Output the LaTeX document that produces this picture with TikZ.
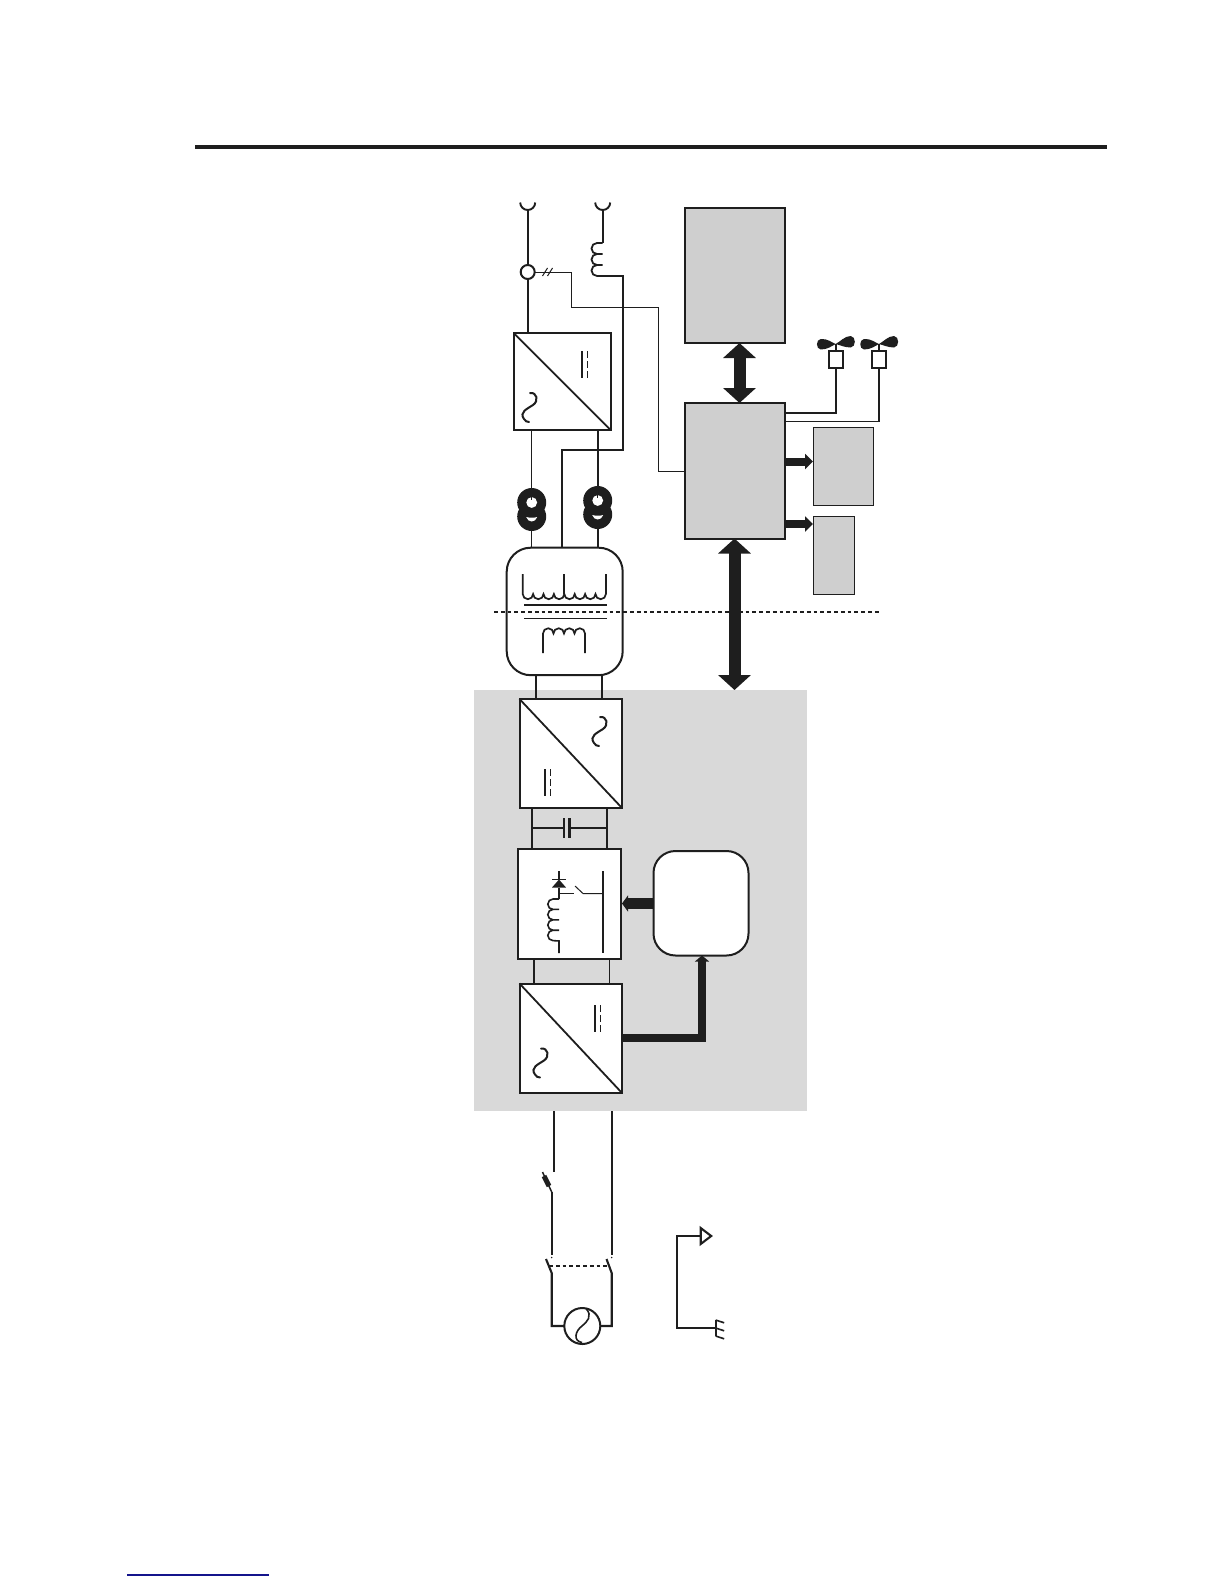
\documentclass[tikz,border=0pt]{standalone}
\usetikzlibrary{arrows.meta}
\definecolor{ink}{HTML}{1E1E1E}
\definecolor{panelgray}{HTML}{D9D9D9}
\definecolor{boxgray}{HTML}{CFCFCF}
\definecolor{linkblue}{HTML}{14148C}
\tikzset{
  x=1pt,y=-1pt,
  wire/.style={draw=ink,line width=2.1pt,line join=miter},
  thick wire/.style={draw=ink,line width=2.5pt,line join=miter},
  thin wire/.style={draw=ink,line width=1pt,line join=miter},
  anybox/.style={inner sep=0pt,outer sep=0pt,anchor=north west},
  conv/.style={anybox,draw=ink,line width=2pt,fill=white},
  grayblock/.style={anybox,draw=ink,line width=2pt,fill=boxgray},
  grayblockthin/.style={anybox,draw=ink,line width=.8pt,fill=boxgray},
  panelbox/.style={anybox,fill=panelgray},
  roundbox/.style={anybox,draw=ink,line width=2pt,fill=white,rounded corners=22pt},
  bigdouble/.style={draw=ink,line width=12pt,{Triangle[length=15pt,width=32pt]}-{Triangle[length=15pt,width=32pt]}},
  shortarrow/.style={draw=ink,line width=8pt,-{Triangle[length=8pt,width=15pt]}},
  power/.style={draw=ink,line width=7.5pt,line join=miter,-{Triangle[length=6pt,width=14pt]}},
  sinewave/.pic={\draw[ink,line width=2pt,line cap=round]
     (0,-14.5) .. controls (7,-15.5) and (9,-6.5) .. (3,-2.5)
     .. controls (-3,1.5) and (-11,4.5) .. (-6,11.5)
     .. controls (-5,13.5) and (-3,14.5) .. (-1,14.5);},
  dcsign/.pic={\draw[ink,line width=2.2pt] (0,0) -- (0,27);
     \draw[ink,line width=1.2pt,dash pattern=on 7pt off 3pt] (5.5,0) -- (5.5,27);},
  sensor/.pic={
     \fill[ink] (0,0) circle[radius=14.5];
     \fill[ink] (0,14) circle[radius=14.5];
     \fill[white] (0,0) circle[radius=5.4];
     \fill[white] (-5.5,14.5) .. controls (-2,15.5) and (2,15.5) .. (5.5,14.5)
        .. controls (3.5,20.5) and (-3.5,20.5) .. (-5.5,14.5) -- cycle;
     \draw[ink,line width=1pt] (0,-14.5) -- (0,-3);},
  fanhead/.pic={
     \fill[ink] (0,0) .. controls (-4,-1.5) and (-8,-5.5) .. (-15,-5)
        .. controls (-20,-4.5) and (-20,5) .. (-15,5.5)
        .. controls (-8,5.5) and (-4,2) .. (0,0) -- cycle;
     \fill[ink] (0,0) .. controls (4,-2) and (9,-8) .. (15,-8)
        .. controls (20.5,-7.5) and (20.5,3) .. (15,3.5)
        .. controls (9,3.5) and (4,1) .. (0,0) -- cycle;},
  cup/.pic={\draw[ink,line width=1.9pt] (-7.5,0) arc[start angle=180,end angle=0,radius=7.5];}
}
\begin{document}
\begin{tikzpicture}
\useasboundingbox (0,0) rectangle (1224,1584);

% page furniture
\coordinate (ruleL) at (195,146.5);
\coordinate (ruleR) at (1107,146.5);
\draw[ink,line width=4pt] (ruleL) -- (ruleR);
\coordinate (linkL) at (127,1575);
\coordinate (linkR) at (269,1575);
\draw[linkblue,line width=1.3pt] (linkL) -- (linkR);

% gray panel
\node[panelbox,minimum width=333pt,minimum height=421pt] (panel) at (474,690) {};

% blocks
\node[conv,minimum width=97pt,minimum height=97pt] (conv1) at (513.7,333) {};
\node[conv,minimum width=102.5pt,minimum height=109pt] (conv2) at (519.5,699) {};
\node[conv,minimum width=103pt,minimum height=110pt] (chop) at (517.7,849) {};
\node[conv,minimum width=102.5pt,minimum height=109.5pt] (conv3) at (519.5,983.5) {};
\node[roundbox,minimum width=95pt,minimum height=104.5pt] (ctl) at (653.5,851) {};
\node[anybox,draw=ink,line width=2pt,fill=white,rounded corners=24pt,minimum width=116pt,minimum height=127.5pt] (xfmr) at (506.7,547.7) {};
\node[grayblock,minimum width=100pt,minimum height=135pt] (disp) at (685,208) {};
\node[grayblock,minimum width=100pt,minimum height=135.5pt] (cpu) at (685,403) {};
\node[grayblockthin,minimum width=60.5pt,minimum height=78pt] (aux1) at (813,427) {};
\node[grayblockthin,minimum width=41.5pt,minimum height=78pt] (aux2) at (813,516) {};
\node[anybox,draw=ink,line width=2pt,fill=white,minimum width=14pt,minimum height=17pt] (fan1) at (828.7,351) {};
\node[anybox,draw=ink,line width=2pt,fill=white,minimum width=14pt,minimum height=17pt] (fan2) at (871.7,351) {};
\node[draw=ink,line width=2pt,fill=white,circle,minimum size=14pt,inner sep=0pt,outer sep=0pt] (ct) at (527.7,272) {};
\node[draw=ink,line width=2pt,fill=white,circle,minimum size=36pt,inner sep=0pt,outer sep=0pt] (src) at (582.3,1326) {};

% diagonals
\foreach \b in {conv1,conv2,conv3}{\draw[ink,line width=1.8pt] (\b.north west) -- (\b.south east);}
\pic at (530,407.5) {sinewave};
\pic at (600,731.5) {sinewave};
\pic at (541,1063) {sinewave};
\pic at (581.7,351) {dcsign};
\pic at (545,769) {dcsign};
\pic at (595,1005) {dcsign};

% grid side
\coordinate (t1) at (527.7,210);
\coordinate (t2) at (602.7,210);
\pic at (527.7,202.5) {cup};
\pic at (602.7,202.5) {cup};
\draw[wire] (t1) -- (ct.north);
\draw[wire] (ct.south) -- (ct.south |- conv1.north);
\coordinate (coilT) at (602.7,243);
\coordinate (coilB) at (597,276);
\coordinate (bus) at (623,276);
\coordinate (busB) at (623,450);
\coordinate (tap) at (562,450);
\draw[wire] (t2) -- (coilT);
\draw[ink,line width=1.8pt] (coilT) -- ++(-5.7,0)
  arc[start angle=270,end angle=90,radius=5.5] -- ++(5.7,0) -- ++(-5.7,0)
  arc[start angle=270,end angle=90,radius=5.5] -- ++(5.7,0) -- ++(-5.7,0)
  arc[start angle=270,end angle=90,radius=5.5];
\draw[thick wire] (coilB) -- (bus) -- (busB) -- (tap) -- (tap |- xfmr.north);

% measurement line
\coordinate (m1) at (571.7,272);
\coordinate (m2) at (571.7,307);
\coordinate (m3) at (658,307);
\coordinate (m4) at (658,471.5);
\draw[thin wire] (ct.east) -- (m1) -- (m2) -- (m3) -- (m4) -- (m4 -| cpu.west);
\coordinate (tk1) at (545,272);
\coordinate (tk2) at (550,272);
\draw[thin wire] ([shift={(-2.5,4)}]tk1) -- ([shift={(2.5,-4)}]tk1);
\draw[thin wire] ([shift={(-2.5,4)}]tk2) -- ([shift={(2.5,-4)}]tk2);

% sensors
\coordinate (s1) at (531.7,502.5);
\coordinate (s2) at (597.7,500.5);
\draw[thin wire] (s1 |- conv1.south) -- (s1);
\draw[wire] (s2 |- conv1.south) -- (s2);
\draw[thin wire] (s1) -- (s1 |- xfmr.north);
\draw[wire] (s2) -- (s2 |- xfmr.north);
\pic at (s1) {sensor};
\pic at (s2) {sensor};

% transformer windings
\draw[ink,line width=1.7pt] (522.7,574) -- (522.7,594)
  \foreach \i in {1,...,8}{ arc[start angle=180,end angle=0,radius=5.2] } -- (606,574);
\draw[ink,line width=1.7pt] (564.3,574) -- (564.3,594);
\coordinate (barL) at (524,605);
\coordinate (barR) at (607,605);
\draw[ink,line width=2.2pt] (barL) -- (barR);
\coordinate (bar2L) at (524,618.5);
\coordinate (bar2R) at (607,618.5);
\draw[ink,line width=1pt] (bar2L) -- (bar2R);
\draw[ink,line width=1.7pt] (543,653) -- (543,633.5)
  \foreach \i in {1,...,4}{ arc[start angle=180,end angle=360,radius=5.25] } -- (585,653);
\coordinate (isoL) at (494,612);
\coordinate (isoR) at (880,612);
\draw[ink,line width=1.6pt,dash pattern=on 3.8pt off 3pt] (isoL) -- (isoR);

% transformer to panel converter
\coordinate (x1) at (535.7,680);
\coordinate (x2) at (601.7,680);
\draw[wire] (x1 |- xfmr.south) -- (x1 |- conv2.north);
\draw[wire] (x2 |- xfmr.south) -- (x2 |- conv2.north);

% DC link
\coordinate (d1) at (532,830);
\coordinate (d2) at (606.7,830);
\draw[wire] (d1 |- conv2.south) -- (d1 |- chop.north);
\draw[wire] (d2 |- conv2.south) -- (d2 |- chop.north);
\coordinate (capL) at (564,827.7);
\coordinate (capR) at (569.5,827.7);
\draw[wire] (d1 |- capL) -- (capL);
\draw[wire] (capR) -- (d2 |- capR);
\draw[draw=ink,line width=1.4pt] ([yshift=-10pt]capL) -- ([yshift=10pt]capL);
\draw[ink,line width=2.4pt] ([yshift=-10pt]capR) -- ([yshift=10pt]capR);

% chopper interior
\coordinate (dTop) at (559,871);
\coordinate (dBar) at (559,879.5);
\coordinate (dBase) at (559,887.5);
\coordinate (coilC) at (559,899);
\draw[ink,line width=1.6pt] (dTop) -- (dBar);
\draw[ink,line width=1.6pt] (dBase) -- (coilC);
\draw[ink,line width=1.5pt] ([xshift=-7pt]dBar) -- ([xshift=7pt]dBar);
\fill[ink] (dBar) -- ([xshift=-7pt]dBase) -- ([xshift=7pt]dBase) -- cycle;
\coordinate (cdE) at (559,941);
\coordinate (cdB) at (559,953);
\draw[ink,line width=1.6pt] (coilC) -- ++(-6,0)
  arc[start angle=270,end angle=90,radius=5.2] -- ++(6,0) -- ++(-6,0)
  arc[start angle=270,end angle=90,radius=5.2] -- ++(6,0) -- ++(-6,0)
  arc[start angle=270,end angle=90,radius=5.2] -- ++(6,0) -- ++(-6,0)
  arc[start angle=270,end angle=90,radius=5.2] -- (cdE) -- (cdB);
\coordinate (barT) at (602.7,871);
\coordinate (barB) at (602.7,953);
\draw[ink,line width=2pt] (barT) -- (barB);
\coordinate (swA) at (574,893.5);
\coordinate (swB) at (583,893.5);
\coordinate (swC) at (575,886);
\draw[ink,line width=1pt] (coilC |- swA) -- (swA);
\draw[ink,line width=1pt] (swC) -- (swB) -- (barT |- swB);

% chopper to lower converter
\coordinate (l1) at (534,970);
\coordinate (l2) at (609,970);
\draw[wire] (l1 |- chop.south) -- (l1 |- conv3.north);
\draw[thin wire] (l2 |- chop.south) -- (l2 |- conv3.north);

% control arrows
\coordinate (aChop) at (622,903.5);
\draw[draw=ink,line width=10.5pt,-{Triangle[length=6pt,width=16pt]}] (aChop -| ctl.west) -- (aChop);
\coordinate (pw) at (702,1038);
\draw[power] (pw -| conv3.east) -- (pw) -- (pw |- ctl.south);

% big arrows
\coordinate (ua) at (739.5,370);
\draw[bigdouble] (ua |- disp.south) -- (ua |- cpu.north);
\coordinate (la) at (734.5,600);
\draw[bigdouble] (la |- cpu.south) -- (la |- panel.north);
\coordinate (sa1) at (800,461.5);
\coordinate (sa2) at (800,524);
\draw[shortarrow] (sa1 -| cpu.east) -- (sa1 -| aux1.west);
\draw[shortarrow] (sa2 -| cpu.east) -- (sa2 -| aux2.west);

% fans
\coordinate (f1) at (835.7,412.7);
\coordinate (f2) at (879,421.7);
\draw[wire] (f1 |- fan1.south) -- (f1) -- (f1 -| cpu.east);
\draw[thin wire,line width=1.4pt] (f2 |- fan2.south) -- (f2) -- (f2 -| cpu.east);
\coordinate (h1) at (835.7,344);
\coordinate (h2) at (879,344);
\draw[wire] (h1) -- (fan1.north -| h1);
\draw[wire] (h2) -- (fan2.north -| h2);
\pic at (h1) {fanhead};
\pic at (h2) {fanhead};

% mains
\coordinate (m) at (554,1171.7);
\coordinate (n) at (611.7,1255);
\coordinate (fa) at (542.5,1172);
\coordinate (fb) at (551.7,1192);
\coordinate (la1) at (551.7,1255);
\draw[wire] (m |- panel.south) -- (m);
\draw[wire] (n |- panel.south) -- (n);
\draw[ink,line width=1.5pt] (fa) -- (fb);
\draw[ink,line width=5pt] (544,1176) -- (549,1186);
\draw[wire] (fb) -- (la1);
\coordinate (bl1) at (546,1259);
\coordinate (bl2) at (551.7,1273);
\coordinate (br1) at (606.5,1259);
\coordinate (br2) at (611.7,1273);
\draw[wire] (bl1) -- (bl2) -- (bl2 |- src.west) -- (src.west);
\draw[wire] (br1) -- (br2) -- (br2 |- src.east) -- (src.east);
\fill[ink] (551.7,1257.5) circle[radius=.8];
\fill[ink] (611.7,1257.5) circle[radius=.8];
\draw[ink,line width=1.8pt,dash pattern=on 3.8pt off 3pt] (549,1265.7) -- (609,1265.7);
\draw[ink,line width=1.6pt] (586,1308.5) .. controls (593,1316) and (587,1322) .. (582,1326)
   .. controls (575,1331) and (573,1341) .. (582,1342.5);

% protective earth
\coordinate (pe1) at (676.7,1236);
\coordinate (pe2) at (676.7,1328);
\coordinate (tri) at (700.7,1236);
\coordinate (gnd) at (715.7,1328);
\draw[wire] (tri) -- (pe1) -- (pe2) -- (gnd);
\draw[wire,fill=white] (tri) ++(0,-8) -- ++(10.5,8) -- ++(-10.5,8) -- cycle;
\draw[wire] ([yshift=-8pt]gnd) -- ([yshift=8pt]gnd);
\foreach \dy in {-8,0,8}{\draw[ink,line width=1.6pt] ([yshift=\dy pt]gnd) -- ++(8.5,2.8);}
\end{tikzpicture}
\end{document}
